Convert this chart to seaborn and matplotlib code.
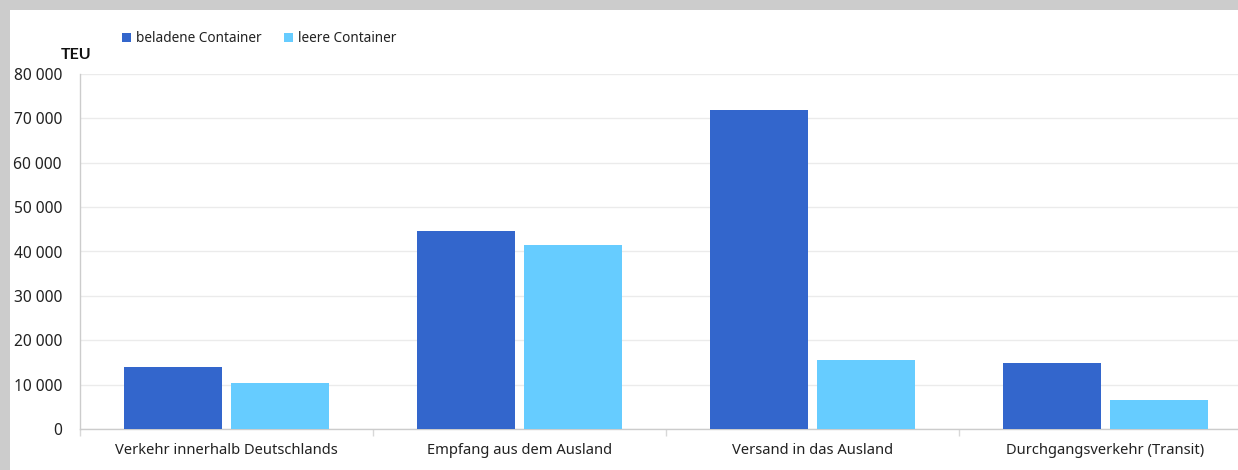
import matplotlib
matplotlib.use("Agg")
import matplotlib.pyplot as plt
import seaborn as sns
import pandas as pd
from matplotlib.patches import Rectangle, Patch
from matplotlib.ticker import FuncFormatter, FixedLocator

categories = ["Verkehr innerhalb Deutschlands", "Empfang aus dem Ausland",
              "Versand in das Ausland", "Durchgangsverkehr (Transit)"]
series_names = ["beladene Container", "leere Container"]
beladen = [13900, 44600, 71900, 14900]
leer = [10300, 41500, 15500, 6500]
y_ticks = [0, 10000, 20000, 30000, 40000, 50000, 60000, 70000, 80000]

df = pd.DataFrame({
    "Kategorie": categories * 2,
    "Serie": [series_names[0]] * 4 + [series_names[1]] * 4,
    "TEU": beladen + leer,
})

sns.set_theme(style="white")
plt.rcParams["font.family"] = ["Noto Sans", "DejaVu Sans"]

colors = ["#3366cc", "#66ccff"]

fig = plt.figure(figsize=(12.38, 4.70), dpi=100)
fig.patch.set_facecolor("white")
# gray frame strips (top and left)
fig.patches.append(Rectangle((0, 1 - 10 / 470), 1, 10 / 470, transform=fig.transFigure,
                             facecolor="#cccccc", edgecolor="none"))
fig.patches.append(Rectangle((0, 0), 10 / 1238, 1, transform=fig.transFigure,
                             facecolor="#cccccc", edgecolor="none"))

ax = fig.add_axes([80 / 1238, 41 / 470, 1172 / 1238, 355 / 470])
ax.set_facecolor("none")

sns.barplot(data=df, x="Kategorie", y="TEU", hue="Serie", palette=colors,
            saturation=1, width=0.73, gap=0.085, linewidth=0, ax=ax,
            legend=False, zorder=3)

ax.set_ylim(0, 80000)
ax.set_xlim(-0.5, 3.5)
ax.yaxis.set_major_locator(FixedLocator(y_ticks))
ax.yaxis.set_major_formatter(FuncFormatter(lambda v, p: f"{int(v):,}".replace(",", " ")))
ax.grid(axis="y", color="#ebebeb", linewidth=1, zorder=0)
ax.set_axisbelow(True)

for s in ["top", "right"]:
    ax.spines[s].set_visible(False)
ax.spines["left"].set_color("#cccccc")
ax.spines["bottom"].set_color("#cccccc")
ax.spines["left"].set_linewidth(1)
ax.spines["bottom"].set_linewidth(1)

ax.set_xlabel("")
ax.set_ylabel("")
ax.tick_params(axis="x", which="major", length=0, pad=10, labelsize=10.6, labelcolor="#222222")
ax.set_xticks([-0.5, 0.5, 1.5, 2.5, 3.5], minor=True)
ax.tick_params(axis="x", which="minor", bottom=True, length=5, color="#d8d8d8", width=1)
ax.tick_params(axis="y", length=4, color="#eeeeee", pad=9, labelsize=11.2, labelcolor="#222222")

fig.text(61 / 1238, 1 - 55 / 470, "TEU", fontsize=11.5, fontweight="bold",
         family=["Lato"], color="#111111", ha="left", va="center")

handles = [Patch(facecolor=c, edgecolor="none") for c in colors]
fig.legend(handles, series_names, loc="center left",
           bbox_to_anchor=(110 / 1238, 1 - 39 / 470), ncol=2, frameon=False,
           handlelength=0.65, handleheight=0.65, handletextpad=0.35,
           columnspacing=1.65, fontsize=9.8, labelcolor="#222222")

fig.savefig("out.png", dpi=100, facecolor=fig.get_facecolor())
